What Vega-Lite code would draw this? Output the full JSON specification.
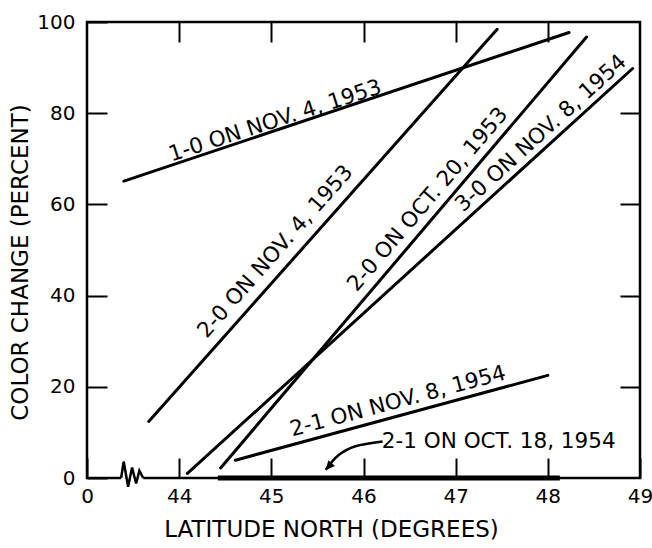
{
  "$schema": "https://vega.github.io/schema/vega-lite/v6.json",
  "width": 553,
  "height": 456,
  "autosize": "none",
  "padding": {"left": 87, "top": 22, "right": 12, "bottom": 70},
  "background": "white",
  "config": {
    "view": {"stroke": "black", "strokeWidth": 2.5},
    "font": "DejaVu Sans",
    "axis": {"grid": false, "domain": false, "tickColor": "black", "tickWidth": 2, "labelColor": "black", "titleColor": "black", "labelFontSize": 20, "titleFontSize": 23, "titleFontWeight": "normal"}
  },
  "datasets": {
    "lines": [
      {"series": "1-0 Nov 4 1953", "lat": 43.40, "pct": 65.1},
      {"series": "1-0 Nov 4 1953", "lat": 48.23, "pct": 97.7},
      {"series": "2-0 Nov 4 1953", "lat": 43.67, "pct": 12.4},
      {"series": "2-0 Nov 4 1953", "lat": 47.45, "pct": 98.4},
      {"series": "2-0 Oct 20 1953", "lat": 44.45, "pct": 2.2},
      {"series": "2-0 Oct 20 1953", "lat": 48.42, "pct": 96.7},
      {"series": "3-0 Nov 8 1954", "lat": 44.09, "pct": 1.0},
      {"series": "3-0 Nov 8 1954", "lat": 48.92, "pct": 89.8},
      {"series": "2-1 Nov 8 1954", "lat": 44.61, "pct": 3.9},
      {"series": "2-1 Nov 8 1954", "lat": 48.00, "pct": 22.5}
    ],
    "flat": [
      {"series": "2-1 Oct 18 1954", "lat": 44.42, "pct": 0},
      {"series": "2-1 Oct 18 1954", "lat": 48.13, "pct": 0}
    ],
    "gap": [{"lat": 43.37, "lat2": 43.61, "pct": 0}],
    "zigzag": [
      {"i": 0, "lat": 43.370, "pct": 0},
      {"i": 1, "lat": 43.398, "pct": 3.6},
      {"i": 2, "lat": 43.446, "pct": -1.9},
      {"i": 3, "lat": 43.489, "pct": 2.3},
      {"i": 4, "lat": 43.533, "pct": -1.2},
      {"i": 5, "lat": 43.568, "pct": 1.6},
      {"i": 6, "lat": 43.610, "pct": 0}
    ],
    "arrow": [
      {"i": 0, "lat": 46.207, "pct": 8.0},
      {"i": 1, "lat": 45.913, "pct": 6.95},
      {"i": 2, "lat": 45.728, "pct": 4.98},
      {"i": 3, "lat": 45.590, "pct": 1.8}
    ],
    "arrowhead": [{"lat": 45.587, "pct": 1.69}]
  },
  "layer": [
    {
      "data": {"name": "lines"},
      "mark": {"type": "line", "color": "black", "strokeWidth": 3, "strokeCap": "round"},
      "encoding": {
        "x": {"field": "lat", "type": "quantitative", "scale": {"domain": [43, 49], "nice": false, "zero": false},
          "axis": {"orient": "bottom", "values": [43, 44, 45, 46, 47, 48, 49], "labelExpr": "datum.value == 43 ? '0' : datum.label", "tickSize": -20, "labelPadding": 28, "labelFlush": false, "labelOverlap": false, "title": "LATITUDE NORTH (DEGREES)", "titleX": 244, "titleY": 51, "titleBaseline": "middle", "titleAlign": "center", "titleAnchor": null}},
        "y": {"field": "pct", "type": "quantitative", "scale": {"domain": [0, 100], "nice": false},
          "axis": {"orient": "left", "values": [0, 20, 40, 60, 80, 100], "tickSize": -20, "labelPadding": 32, "labelFlush": false, "labelOverlap": false, "title": "COLOR CHANGE (PERCENT)", "titleX": -67, "titleY": 240, "titleBaseline": "middle", "titleAlign": "center", "titleAngle": -90, "titleAnchor": null}},
        "detail": {"field": "series"}
      }
    },
    {
      "data": {"name": "flat"},
      "mark": {"type": "line", "color": "black", "strokeWidth": 5},
      "encoding": {
        "x": {"field": "lat", "type": "quantitative", "axis": {"orient": "top", "values": [44, 45, 46, 47, 48], "tickSize": -20, "labels": false, "title": null}},
        "y": {"field": "pct", "type": "quantitative", "axis": {"orient": "right", "values": [20, 40, 60, 80], "tickSize": -20, "labels": false, "title": null}},
        "detail": {"field": "series"}
      }
    },
    {
      "data": {"name": "gap"},
      "mark": {"type": "rule", "color": "white", "strokeWidth": 5},
      "encoding": {
        "x": {"field": "lat", "type": "quantitative", "axis": null},
        "x2": {"field": "lat2"},
        "y": {"field": "pct", "type": "quantitative", "axis": null}
      }
    },
    {
      "data": {"name": "zigzag"},
      "mark": {"type": "line", "color": "black", "strokeWidth": 2.5, "clip": false},
      "encoding": {
        "x": {"field": "lat", "type": "quantitative", "axis": null},
        "y": {"field": "pct", "type": "quantitative", "axis": null},
        "order": {"field": "i"}
      }
    },
    {
      "data": {"name": "arrow"},
      "mark": {"type": "line", "color": "black", "strokeWidth": 2.5, "interpolate": "cardinal"},
      "encoding": {
        "x": {"field": "lat", "type": "quantitative", "axis": null},
        "y": {"field": "pct", "type": "quantitative", "axis": null},
        "order": {"field": "i"}
      }
    },
    {
      "data": {"name": "arrowhead"},
      "mark": {"type": "point", "shape": "M0,0 L-0.5,1.1 L0.5,1.1 Z", "filled": true, "color": "black", "opacity": 1, "size": 300, "angle": 221},
      "encoding": {
        "x": {"field": "lat", "type": "quantitative", "axis": null},
        "y": {"field": "pct", "type": "quantitative", "axis": null}
      }
    },
    {
      "data": {"values": [{"lat": 45.043, "pct": 78.2, "label": "1-0 ON NOV. 4, 1953"}]},
      "mark": {"type": "text", "angle": -18, "fontSize": 21.5, "color": "black", "align": "center", "baseline": "middle"},
      "encoding": {"x": {"field": "lat", "type": "quantitative", "axis": null}, "y": {"field": "pct", "type": "quantitative", "axis": null}, "text": {"field": "label"}}
    },
    {
      "data": {"values": [{"lat": 45.049, "pct": 49.6, "label": "2-0 ON NOV. 4, 1953"}]},
      "mark": {"type": "text", "angle": -48.5, "fontSize": 21.5, "color": "black", "align": "center", "baseline": "middle"},
      "encoding": {"x": {"field": "lat", "type": "quantitative", "axis": null}, "y": {"field": "pct", "type": "quantitative", "axis": null}, "text": {"field": "label"}}
    },
    {
      "data": {"values": [{"lat": 46.701, "pct": 61.0, "label": "2-0 ON OCT. 20, 1953"}]},
      "mark": {"type": "text", "angle": -49.5, "fontSize": 21.5, "color": "black", "align": "center", "baseline": "middle"},
      "encoding": {"x": {"field": "lat", "type": "quantitative", "axis": null}, "y": {"field": "pct", "type": "quantitative", "axis": null}, "text": {"field": "label"}}
    },
    {
      "data": {"values": [{"lat": 47.929, "pct": 75.5, "label": "3-0 ON NOV. 8, 1954"}]},
      "mark": {"type": "text", "angle": -42.2, "fontSize": 21.5, "color": "black", "align": "center", "baseline": "middle"},
      "encoding": {"x": {"field": "lat", "type": "quantitative", "axis": null}, "y": {"field": "pct", "type": "quantitative", "axis": null}, "text": {"field": "label"}}
    },
    {
      "data": {"values": [{"lat": 46.375, "pct": 16.7, "label": "2-1 ON NOV. 8, 1954"}]},
      "mark": {"type": "text", "angle": -15, "fontSize": 21.5, "color": "black", "align": "center", "baseline": "middle"},
      "encoding": {"x": {"field": "lat", "type": "quantitative", "axis": null}, "y": {"field": "pct", "type": "quantitative", "axis": null}, "text": {"field": "label"}}
    },
    {
      "data": {"values": [{"lat": 47.467, "pct": 7.8, "label": "2-1 ON OCT. 18, 1954"}]},
      "mark": {"type": "text", "angle": 0, "fontSize": 21.5, "color": "black", "align": "center", "baseline": "middle"},
      "encoding": {"x": {"field": "lat", "type": "quantitative", "axis": null}, "y": {"field": "pct", "type": "quantitative", "axis": null}, "text": {"field": "label"}}
    }
  ],
  "resolve": {"axis": {"x": "independent", "y": "independent"}}
}
